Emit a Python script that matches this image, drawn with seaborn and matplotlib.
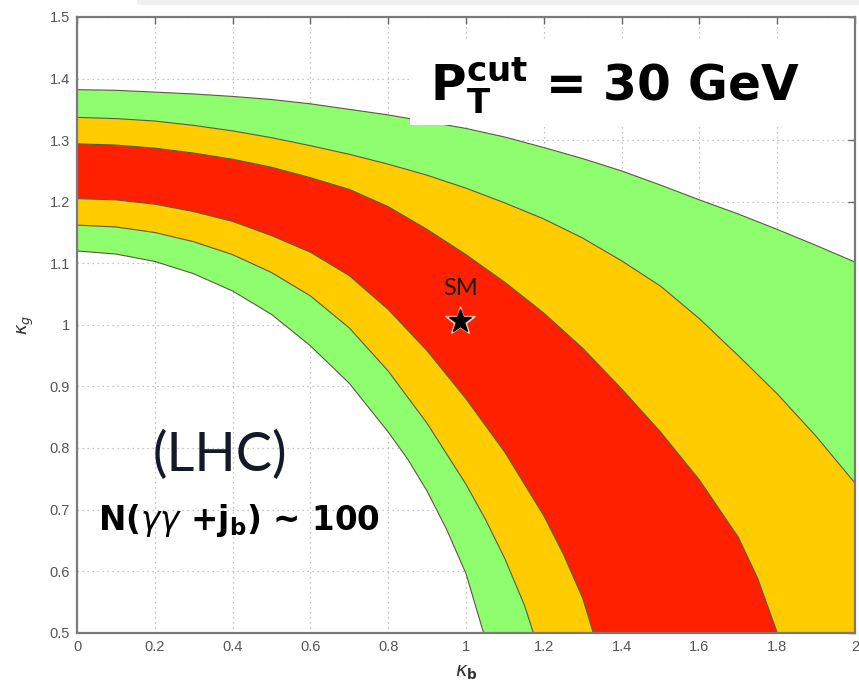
import numpy as np
import matplotlib
matplotlib.use("Agg")
import matplotlib.pyplot as plt
import seaborn as sns
from matplotlib.patches import Rectangle

# ---- data: boundary curves (kappa_b, kappa_g) ----
green_outer_x = [0, 0.1, 0.2, 0.3, 0.4, 0.5, 0.6, 0.7, 0.8, 0.9, 1.0,
                 1.1, 1.2, 1.3, 1.4, 1.5, 1.6, 1.7, 1.8, 1.9, 2.0]
green_outer_y = [1.382, 1.381, 1.378, 1.375, 1.371, 1.366, 1.359, 1.350, 1.341, 1.330, 1.319,
                 1.305, 1.288, 1.270, 1.250, 1.227, 1.203, 1.180, 1.155, 1.129, 1.102]

yellow_outer_x = [0, 0.1, 0.2, 0.3, 0.4, 0.5, 0.6, 0.7, 0.8, 0.9, 1.0,
                  1.1, 1.2, 1.3, 1.4, 1.5, 1.6, 1.7, 1.8, 1.9, 2.0]
yellow_outer_y = [1.337, 1.335, 1.331, 1.324, 1.315, 1.304, 1.291, 1.277, 1.261, 1.243, 1.222,
                  1.198, 1.172, 1.141, 1.104, 1.063, 1.010, 0.950, 0.888, 0.819, 0.743]

red_outer_x = [0, 0.1, 0.2, 0.3, 0.4, 0.5, 0.6, 0.7, 0.8, 0.9, 1.0,
               1.1, 1.2, 1.3, 1.4, 1.5, 1.6, 1.7, 1.75, 1.8]
red_outer_y = [1.294, 1.292, 1.287, 1.279, 1.269, 1.256, 1.239, 1.220, 1.192, 1.155, 1.114,
               1.069, 1.019, 0.962, 0.896, 0.826, 0.748, 0.655, 0.588, 0.500]

red_inner_x = [0, 0.1, 0.2, 0.3, 0.4, 0.5, 0.6, 0.7, 0.8, 0.9, 1.0,
               1.1, 1.2, 1.25, 1.3, 1.327]
red_inner_y = [1.205, 1.203, 1.196, 1.184, 1.168, 1.145, 1.118, 1.080, 1.025, 0.958, 0.880,
               0.793, 0.690, 0.628, 0.556, 0.500]

yellow_inner_x = [0, 0.1, 0.2, 0.3, 0.4, 0.5, 0.6, 0.7, 0.8, 0.9, 1.0,
                  1.05, 1.1, 1.15, 1.173]
yellow_inner_y = [1.162, 1.159, 1.150, 1.135, 1.114, 1.085, 1.047, 0.995, 0.925, 0.840, 0.741,
                  0.684, 0.620, 0.545, 0.500]

green_inner_x = [0, 0.1, 0.2, 0.3, 0.4, 0.5, 0.6, 0.7, 0.8, 0.85, 0.9, 0.95, 1.0, 1.045]
green_inner_y = [1.120, 1.115, 1.103, 1.083, 1.055, 1.017, 0.966, 0.905, 0.826, 0.782, 0.730,
                 0.668, 0.596, 0.500]

sm_point = (0.985, 1.007)

x_ticks = [0, 0.2, 0.4, 0.6, 0.8, 1.0, 1.2, 1.4, 1.6, 1.8, 2.0]
x_ticklabels = ["0", "0.2", "0.4", "0.6", "0.8", "1", "1.2", "1.4", "1.6", "1.8", "2"]
y_ticks = [0.5, 0.6, 0.7, 0.8, 0.9, 1.0, 1.1, 1.2, 1.3, 1.4, 1.5]
y_ticklabels = ["0.5", "0.6", "0.7", "0.8", "0.9", "1", "1.1", "1.2", "1.3", "1.4", "1.5"]

GREEN = "#8efe6e"
YELLOW = "#ffcc00"
RED = "#ff2000"

sns.set_style("white")
plt.rcParams["font.family"] = ["Liberation Sans", "DejaVu Sans"]

fig = plt.figure(figsize=(8.59, 6.92), dpi=100)
ax = fig.add_axes([77 / 859, (692 - 632.7) / 692, (855 - 77) / 859, (632.7 - 17) / 692])

XMIN, XMAX, YMIN, YMAX = 0.0, 2.0, 0.5, 1.5
ax.set_xlim(XMIN, XMAX)
ax.set_ylim(YMIN, YMAX)


def band(outer_x, outer_y, inner_x, inner_y, color):
    px = list(outer_x)
    py = list(outer_y)
    # close along the frame (right edge / bottom edge)
    if outer_x[-1] >= XMAX and inner_y[-1] <= YMIN:
        px.append(XMAX)
        py.append(YMIN)
    px += list(inner_x[::-1])
    py += list(inner_y[::-1])
    ax.fill(px, py, color=color, lw=0, zorder=2)


band(green_outer_x, green_outer_y, yellow_outer_x, yellow_outer_y, GREEN)
band(yellow_outer_x, yellow_outer_y, red_outer_x, red_outer_y, YELLOW)
band(red_outer_x, red_outer_y, red_inner_x, red_inner_y, RED)
band(red_inner_x, red_inner_y, yellow_inner_x, yellow_inner_y, YELLOW)
band(yellow_inner_x, yellow_inner_y, green_inner_x, green_inner_y, GREEN)

for cx, cy in [(green_outer_x, green_outer_y), (yellow_outer_x, yellow_outer_y),
               (red_outer_x, red_outer_y), (red_inner_x, red_inner_y),
               (yellow_inner_x, yellow_inner_y), (green_inner_x, green_inner_y)]:
    sns.lineplot(x=cx, y=cy, sort=False, estimator=None, color="#5a5a40",
                 lw=0.8, ax=ax, zorder=3)

# grid (MATLAB style, dotted)
ax.set_xticks(x_ticks)
ax.set_xticklabels(x_ticklabels)
ax.set_yticks(y_ticks)
ax.set_yticklabels(y_ticklabels)
ax.grid(True, linestyle=(0, (1, 3)), color="#b0b0b0", lw=0.9, zorder=0)
ax.set_axisbelow(True)
ax.tick_params(direction="in", length=5, width=1.0, color="#666666",
               top=True, right=True, labelsize=10.5, labelcolor="#555555", pad=5)
for s in ax.spines.values():
    s.set_color("#7a7a7a")
    s.set_linewidth(1.6)
    s.set_zorder(6)

ax.set_xlabel(r"$\kappa_\mathbf{b}$", fontsize=14, color="#333333", labelpad=7)
ax.set_ylabel(r"$\kappa_g$", fontsize=13, color="#333333", labelpad=10)

# SM point
ax.plot(*sm_point, marker="*", ms=22, color="white", alpha=0.6, zorder=4, ls="none")
ax.plot(*sm_point, marker="*", ms=17, color="black", zorder=5, ls="none")
ax.text(sm_point[0], sm_point[1] + 0.052, "SM", ha="center", va="center",
        fontsize=17, color="#1a1a1a", family=["Lato", "DejaVu Sans"], zorder=5)

# white label box
ax.add_patch(Rectangle((0.856, 1.3245), 2.0 - 0.856, 1.4624 - 1.3245,
                       facecolor="white", edgecolor="none", zorder=4))
ax.text(0.9075, 1.365, r"P$_\mathbf{T}^\mathbf{cut}$ = 30 GeV", ha="left",
        va="baseline", fontsize=35, fontweight="bold", color="black", zorder=5,
        family=["DejaVu Sans"])

ax.text(0.3676, 0.7886, "(LHC)", ha="center", va="center", fontsize=39,
        color="#141828", family=["Lato", "DejaVu Sans"], zorder=5)
ax.text(0.054, 0.6668, r"N($\gamma\gamma$ +j$_\mathbf{b}$) ~ 100", ha="left",
        va="baseline", fontsize=23.5, fontweight="bold", color="black", zorder=5,
        family=["DejaVu Sans"])

# light grey strip at top of the slide
fig.patches.append(Rectangle((137 / 859, 1 - 5 / 692), 1, 5 / 692,
                             transform=fig.transFigure, facecolor="#efefef",
                             edgecolor="none"))

fig.savefig("out.png", dpi=100)
